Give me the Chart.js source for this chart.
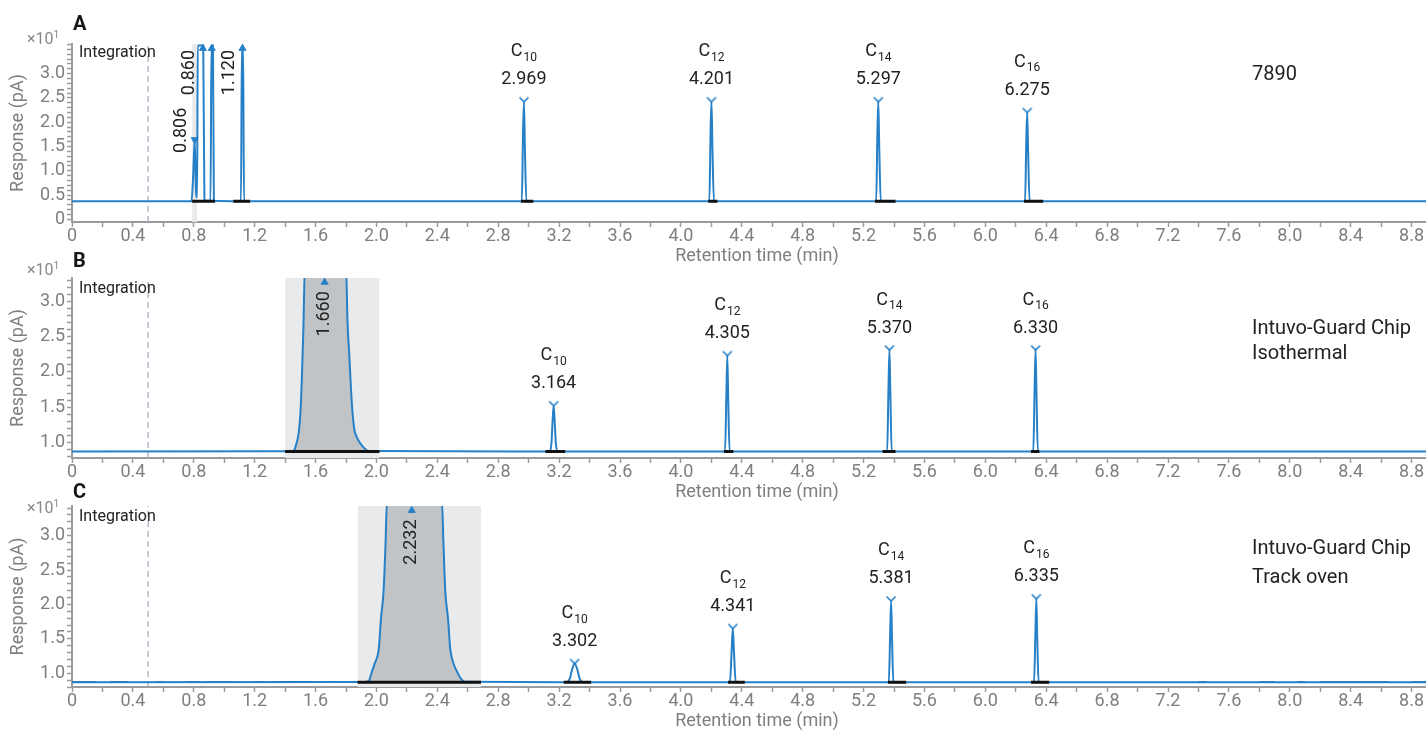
<!DOCTYPE html>
<html>
<head>
<meta charset="utf-8">
<script src="https://cdn.jsdelivr.net/npm/chart.js@4.4.1/dist/chart.umd.min.js"></script>
<style>
  body { margin: 0; width: 1426px; height: 737px; position: relative; background: #fff; font-family: Roboto, sans-serif; overflow: hidden; }
  canvas { position: absolute; left: 0; }
  .lbl { position: absolute; white-space: nowrap; line-height: 1; }
  .letter { font-weight: bold; font-size: 20px; color: #151515; left: 73px; }
  .mult { font-size: 16px; color: #888; left: 27px; }
  .mult sup { font-size: 10px; vertical-align: 6px; }
  .side { font-size: 20px; color: #222; left: 1252px; }
</style>
</head>
<body>
<canvas id="cA"></canvas>
<canvas id="cB"></canvas>
<canvas id="cC"></canvas>

<div class="lbl letter" style="top:13px">A</div>
<div class="lbl letter" style="top:250px">B</div>
<div class="lbl letter" style="top:481px">C</div>
<div class="lbl mult" style="top:30px">×10<sup>1</sup></div>
<div class="lbl mult" style="top:261px">×10<sup>1</sup></div>
<div class="lbl mult" style="top:499px">×10<sup>1</sup></div>
<div class="lbl side" style="top:63px">7890</div>
<div class="lbl side" style="top:317px">Intuvo-Guard Chip</div>
<div class="lbl side" style="top:342px">Isothermal</div>
<div class="lbl side" style="top:537px">Intuvo-Guard Chip</div>
<div class="lbl side" style="top:566px">Track oven</div>

<script>
// ---- data (x = retention time in min, y = response x10 pA) ----
const carbons = ['10', '12', '14', '16'];

// A: 7890
const traceA_t = [0, 0.785, 0.796, 0.806, 0.814, 0.822, 0.826, 0.862, 0.870, 0.875, 0.910, 0.916, 0.926, 0.932, 1.110, 1.116, 1.124, 1.130,
  2.955, 2.963, 2.969, 2.975, 2.985,
  4.187, 4.195, 4.201, 4.207, 4.217,
  5.283, 5.291, 5.297, 5.303, 5.313,
  6.261, 6.269, 6.275, 6.281, 6.291, 9.0];
const traceA_y = [0.37, 0.37, 0.9, 1.64, 0.6, 0.45, 3.58, 3.58, 0.40, 0.38, 0.38, 3.58, 3.58, 0.38, 0.37, 3.58, 3.58, 0.37,
  0.37, 1.8, 2.42, 1.5, 0.37,
  0.37, 1.8, 2.42, 1.5, 0.37,
  0.37, 1.8, 2.42, 1.5, 0.37,
  0.37, 1.6, 2.20, 1.4, 0.37, 0.37];
const peakA_rt = [2.969, 4.201, 5.297, 6.275];
const peakA_h = [2.42, 2.42, 2.42, 2.20];
const solventA_rt = [0.806, 0.860, 1.120];
const solventA_mark = [1.64, 3.52, 3.52];
const upA_rt = [0.860, 0.918, 1.120];
const upA_y = [3.52, 3.52, 3.52];
const downA_rt = [0.806];
const downA_y = [1.64];
const baseA_from = [0.789, 0.826, 1.06, 2.95, 4.18, 5.275, 6.254];
const baseA_to = [0.826, 0.94, 1.17, 3.03, 4.24, 5.41, 6.38];

// B: Intuvo-Guard Chip, isothermal
const traceB_t = [0, 1.44, 1.46, 1.47, 1.49, 1.50, 1.51, 1.52, 1.53, 1.80, 1.81, 1.82, 1.84, 1.855, 1.87, 1.89, 1.92, 1.95,
  3.140, 3.150, 3.157, 3.164, 3.171, 3.178, 3.190,
  4.290, 4.299, 4.305, 4.311, 4.320,
  5.355, 5.364, 5.370, 5.376, 5.385,
  6.315, 6.324, 6.330, 6.336, 6.345, 9.0];
const traceB_y = [0.873, 0.875, 0.89, 0.95, 1.15, 1.4, 1.9, 2.6, 3.5, 3.5, 2.7, 2.3, 1.5, 1.18, 1.08, 1.0, 0.92, 0.88,
  0.873, 1.0, 1.3, 1.52, 1.3, 1.0, 0.873,
  0.873, 1.7, 2.23, 1.6, 0.873,
  0.873, 1.8, 2.31, 1.7, 0.873,
  0.873, 1.8, 2.31, 1.7, 0.873, 0.873];
const peakB_rt = [3.164, 4.305, 5.370, 6.330];
const peakB_h = [1.52, 2.23, 2.31, 2.31];
const solventB_rt = [1.660];
const solventB_mark = [3.27];
const baseB_from = [1.40, 3.11, 4.283, 5.325, 6.30];
const baseB_to = [2.02, 3.24, 4.345, 5.41, 6.355];

// C: Intuvo-Guard Chip, track oven
const traceC_t = [0, 1.92, 1.95, 1.97, 1.99, 2.015, 2.03, 2.047, 2.06, 2.069, 2.43, 2.44, 2.452, 2.47, 2.485, 2.505, 2.53, 2.555, 2.58,
  3.250, 3.270, 3.285, 3.302, 3.320, 3.335, 3.355,
  4.322, 4.333, 4.341, 4.349, 4.360,
  5.366, 5.375, 5.381, 5.387, 5.396,
  6.320, 6.329, 6.335, 6.341, 6.350, 9.0];
const traceC_y = [0.87, 0.872, 0.89, 1.02, 1.15, 1.35, 1.8, 2.2, 2.9, 3.5, 3.5, 2.9, 2.2, 1.8, 1.35, 1.15, 1.02, 0.92, 0.875,
  0.87, 0.92, 1.05, 1.14, 1.05, 0.92, 0.87,
  0.87, 1.3, 1.65, 1.3, 0.87,
  0.87, 1.6, 2.05, 1.5, 0.87,
  0.87, 1.6, 2.08, 1.5, 0.87, 0.87];
const peakC_rt = [3.302, 4.341, 5.381, 6.335];
const peakC_h = [1.14, 1.65, 2.05, 2.08];
const solventC_rt = [2.232];
const solventC_mark = [3.365];
const baseC_from = [1.876, 3.23, 4.31, 5.36, 6.30];
const baseC_to = [2.687, 3.41, 4.42, 5.48, 6.42];
const noiseC_from = [0.0, 0.25, 0.55, 0.75, 0.88, 1.19, 1.32, 1.67, 7.40, 7.80, 8.05, 8.20, 8.80];
const noiseC_to = [0.16, 0.37, 0.60, 0.84, 1.06, 1.26, 1.58, 1.71, 7.45, 7.90, 8.10, 8.65, 9.00];

const BLUE = '#2680c8';
const AXIS = '#9b9b9b';
const TICKTXT = '#7f7f7f';
Chart.defaults.font.family = 'Roboto';

// peak apex marker (a small "V")
const vImg = document.createElement('canvas');
vImg.width = 12; vImg.height = 14;
(function () {
  const g = vImg.getContext('2d');
  g.strokeStyle = BLUE; g.lineWidth = 1.6;
  g.beginPath(); g.moveTo(1.5, 2.5); g.lineTo(6, 7); g.lineTo(10.5, 2.5); g.stroke();
})();

const textPlugin = {
  id: 'peaktext',
  afterDatasetsDraw(chart, args, o) {
    const { ctx, chartArea: a, scales: { x, y } } = chart;
    ctx.save();
    ctx.fillStyle = '#222';
    ctx.textBaseline = 'middle';
    ctx.font = '16px Roboto';
    ctx.textAlign = 'left';
    ctx.fillText('Integration', a.left + 7, a.top + o.integY);

    o.rt.forEach((rt, i) => {
      const px = x.getPixelForValue(rt), py = y.getPixelForValue(o.h[i]);
      ctx.font = '18px Roboto';
      ctx.textAlign = 'center';
      ctx.fillText(rt.toFixed(3), px, py - 22);
      const wC = ctx.measureText('C').width;
      ctx.font = '12px Roboto';
      const wS = ctx.measureText(carbons[i]).width;
      const x0 = px - (wC + 1 + wS) / 2;
      ctx.textAlign = 'left';
      ctx.fillText(carbons[i], x0 + wC + 1, py - 44);
      ctx.font = '18px Roboto';
      ctx.fillText('C', x0, py - 50);
    });

    o.rotRt.forEach((rt, i) => {
      const px = x.getPixelForValue(rt) + o.rotDx;
      const top = Math.max(a.top + 6, y.getPixelForValue(o.rotMark[i]) + o.rotDy);
      ctx.save();
      ctx.translate(px, top);
      ctx.rotate(-Math.PI / 2);
      ctx.font = '18px Roboto';
      ctx.textAlign = 'right';
      ctx.fillText(rt.toFixed(3), 0, 0);
      ctx.restore();
    });
    ctx.restore();
  }
};

function xLabel(v) {
  const k = v / 0.4;
  if (Math.abs(k - Math.round(k)) > 1e-6) return '';
  return Math.abs(v) < 1e-9 ? '0' : v.toFixed(1);
}
function yLabel(v) {
  const k = v * 2;
  if (Math.abs(k - Math.round(k)) > 1e-6 || v > 3.01) return '';
  return Math.abs(v) < 1e-9 ? '0' : v.toFixed(1);
}
function segments(from, to, level) {
  const out = [];
  from.forEach((f, i) => { out.push({ x: f, y: level }, { x: to[i], y: level }, { x: to[i], y: null }); });
  return out;
}

function buildPanel(p) {
  const cv = document.getElementById(p.id);
  cv.width = 1442;
  cv.height = Math.round(p.titleY + 11 - p.top);
  cv.style.top = p.top + 'px';
  const pts = p.t.map((t, i) => ({ x: t, y: p.y[i] }));
  const ds = [];
  ds.push({ data: p.rt.map((t, i) => ({ x: t, y: p.h[i] })), showLine: false, pointStyle: vImg, pointRadius: 6, order: 0 });
  ds.push({ data: p.upRt.map((t, i) => ({ x: t, y: p.upY[i] })), showLine: false, pointStyle: 'triangle', pointRadius: 4,
    backgroundColor: BLUE, borderColor: BLUE, borderWidth: 1, order: 0 });
  if (p.downRt) {
    ds.push({ data: p.downRt.map((t, i) => ({ x: t, y: p.downY[i] })), showLine: false, pointStyle: 'triangle', rotation: 180,
      pointRadius: 4, backgroundColor: BLUE, borderColor: BLUE, borderWidth: 1, order: 0 });
  }
  ds.push({ data: segments(p.baseFrom, p.baseTo, p.base), borderColor: '#111', borderWidth: 3, pointRadius: 0, order: 1 });
  ds.push({ data: pts, borderColor: BLUE, borderWidth: 2, pointRadius: 0, cubicInterpolationMode: 'monotone', order: 2 });
  if (p.noiseFrom) {
    ds.push({ data: segments(p.noiseFrom, p.noiseTo, p.base + 0.009), borderColor: BLUE, borderWidth: 1.3, pointRadius: 0, order: 2 });
  }
  if (p.peakFill) {
    ds.push({ data: pts.filter(q => q.x >= p.box[0] && q.x <= p.box[1]), borderWidth: 0, pointRadius: 0,
      cubicInterpolationMode: 'monotone', fill: { value: p.base }, backgroundColor: '#c1c4c7', order: 3 });
  }
  ds.push({ data: [{ x: p.box[0], y: p.max }, { x: p.box[1], y: p.max }], borderWidth: 0, pointRadius: 0,
    fill: 'start', backgroundColor: '#e9eaec', order: 4 });
  ds.push({ data: [{ x: 0.5, y: p.min }, { x: 0.5, y: p.max }], borderColor: '#a4a9ba', borderWidth: 1.2,
    borderDash: [6, 4], pointRadius: 0, order: 5 });

  new Chart(cv, {
    type: 'line',
    data: { datasets: ds },
    plugins: [textPlugin],
    options: {
      responsive: false,
      animation: false,
      events: [],
      layout: { autoPadding: false, padding: { top: p.areaTop - p.top, left: 0, right: 0, bottom: 0 } },
      plugins: {
        legend: { display: false },
        tooltip: { enabled: false },
        peaktext: { rt: p.rt, h: p.h, rotRt: p.rotRt, rotMark: p.rotMark, rotDx: p.rotDx, rotDy: p.rotDy, integY: p.integY }
      },
      scales: {
        x: {
          type: 'linear', min: 0, max: 9.0,
          afterFit: s => { s.height = Math.round(p.titleY + 11) - p.areaBottom; s.paddingRight = 0; s.paddingLeft = 0; },
          border: { color: AXIS, width: 2 },
          grid: { drawOnChartArea: false, tickLength: 5, tickColor: AXIS, tickWidth: 1.5 },
          ticks: { stepSize: 0.2, autoSkip: false, maxRotation: 0, includeBounds: false, padding: -1,
            color: TICKTXT, font: { size: 18 }, callback: xLabel },
          title: { display: true, text: 'Retention time (min)', color: TICKTXT, font: { size: 18 }, padding: { top: 0, bottom: 0 } }
        },
        y: {
          min: p.min, max: p.max,
          afterFit: s => { s.width = 72; },
          border: { color: AXIS, width: 2 },
          grid: { drawOnChartArea: false, tickLength: 5, tickColor: AXIS, tickWidth: 1.5 },
          ticks: { stepSize: 0.1, autoSkip: false, includeBounds: false, padding: 2,
            color: TICKTXT, font: { size: 18 }, callback: yLabel },
          title: { display: true, text: 'Response (pA)', color: TICKTXT, font: { size: 18 }, padding: { top: 8, bottom: 0 } }
        }
      }
    }
  });
}

buildPanel({ id: 'cA', top: 0, areaTop: 44, areaBottom: 222, titleY: 255.5, min: -0.055, max: 3.61, base: 0.37, integY: 9,
  t: traceA_t, y: traceA_y, rt: peakA_rt, h: peakA_h, upRt: upA_rt, upY: upA_y, downRt: downA_rt, downY: downA_y,
  rotRt: solventA_rt, rotMark: solventA_mark, rotDx: -13, rotDy: -32,
  baseFrom: baseA_from, baseTo: baseA_to, box: [0.789, 0.822], peakFill: false });

buildPanel({ id: 'cB', top: 250, areaTop: 278, areaBottom: 458, titleY: 491.5, min: 0.78, max: 3.33, base: 0.873, integY: 11,
  t: traceB_t, y: traceB_y, rt: peakB_rt, h: peakB_h, upRt: solventB_rt, upY: solventB_mark,
  rotRt: solventB_rt, rotMark: solventB_mark, rotDx: 0, rotDy: 9,
  baseFrom: baseB_from, baseTo: baseB_to, box: [1.40, 2.02], peakFill: true });

buildPanel({ id: 'cC', top: 486, areaTop: 506, areaBottom: 687, titleY: 720.5, min: 0.80, max: 3.43, base: 0.87, integY: 11,
  t: traceC_t, y: traceC_y, rt: peakC_rt, h: peakC_h, upRt: solventC_rt, upY: solventC_mark,
  rotRt: solventC_rt, rotMark: solventC_mark, rotDx: 0, rotDy: 9,
  baseFrom: baseC_from, baseTo: baseC_to, noiseFrom: noiseC_from, noiseTo: noiseC_to, box: [1.876, 2.687], peakFill: true });
</script>
</body>
</html>
